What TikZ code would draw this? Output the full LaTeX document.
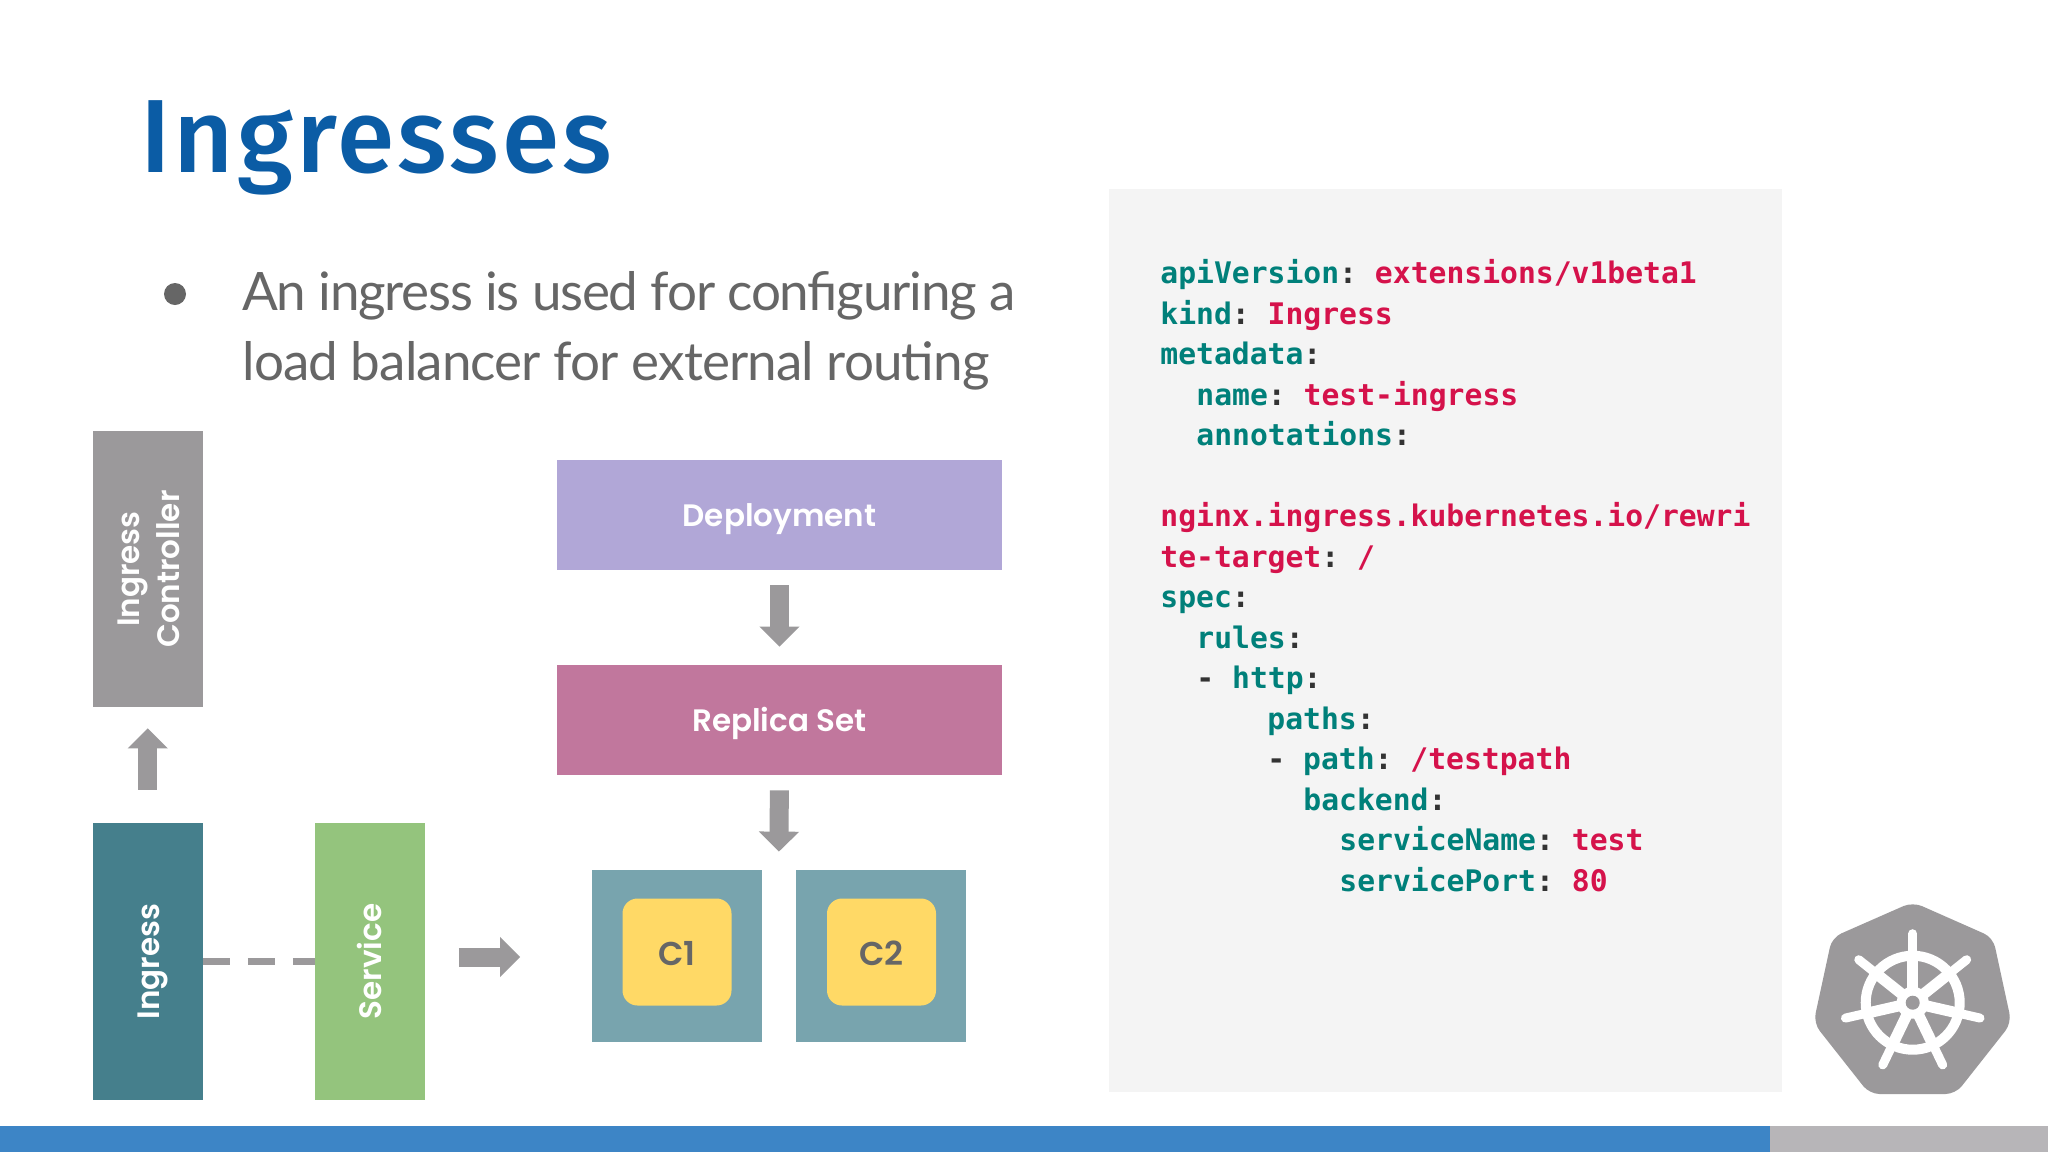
\documentclass[tikz,border=0pt]{standalone}
\usepackage{fontspec}
\usetikzlibrary{arrows.meta,calc}
\setmainfont{Lato}[LetterSpace=-1.7]
\newfontfamily\titlefont{Fira Sans Medium}[LetterSpace=3]
\newfontfamily\boxfont{Poppins SemiBold}
\newfontfamily\codefont{DejaVu Sans Mono}[BoldFont={DejaVu Sans Mono Bold}]
\definecolor{titleblue}{HTML}{0B5CA5}
\definecolor{bodygray}{HTML}{666666}
\definecolor{ingresscol}{HTML}{457F8C}
\definecolor{servicecol}{HTML}{94C47D}
\definecolor{ctrlcol}{HTML}{9B999B}
\definecolor{deploycol}{HTML}{B1A7D7}
\definecolor{replicacol}{HTML}{C1779D}
\definecolor{podcol}{HTML}{78A4AE}
\definecolor{yellowcol}{HTML}{FFD966}
\definecolor{panelcol}{HTML}{F4F4F4}
\definecolor{keycol}{HTML}{00807A}
\definecolor{valcol}{HTML}{D5124B}
\definecolor{punctcol}{HTML}{333333}
\definecolor{barblue}{HTML}{3D85C6}
\definecolor{bargray}{HTML}{B7B5B8}
\definecolor{arrowgray}{HTML}{9B999B}
\newcommand{\kk}[1]{\textcolor{keycol}{#1}}
\newcommand{\vv}[1]{\textcolor{valcol}{#1}}
\newcommand{\pp}[1]{\textcolor{punctcol}{#1}}
\tikzset{
  x=0.5pt,y=-0.5pt,
  tallbox/.style={inner sep=0pt,minimum width=54.75pt,minimum height=138.5pt},
  boxlabel/.style={inner sep=0pt,text=white,text height=11.5pt,text depth=0pt,font=\boxfont\fontsize{15.5}{20}\selectfont},
  widebox/.style={boxlabel,minimum width=222.25pt,minimum height=55pt},
  podbox/.style={inner sep=0pt,minimum width=85pt,minimum height=86pt,fill=podcol},
  ctrbox/.style={inner sep=0pt,minimum width=54.5pt,minimum height=53.5pt,fill=yellowcol,rounded corners=7.5pt,text=bodygray,text height=13pt,text depth=0pt,font=\boxfont\fontsize{16.5}{20}\selectfont},
  blockarrow/.style={draw=arrowgray,line width=9.5pt,-{Triangle[length=10pt,width=19.5pt]}},
  codeline/.style={anchor=base west,inner sep=0pt,font=\codefont\bfseries\fontsize{14.85}{18}\selectfont\frenchspacing},
  bodyline/.style={anchor=base west,inner sep=0pt,text=bodygray,font=\fontsize{26.5}{32}\selectfont},
  hubwhite/.style={white,line cap=round}
}
\begin{document}
\begin{tikzpicture}
\useasboundingbox (0,0) rectangle (2048,1152);
\fill[white] (0,0) rectangle (2048,1152);
% footer bar
\fill[barblue] (0,1126) rectangle (1770,1152);
\fill[bargray] (1770,1126) rectangle (2048,1152);
% title and bullet
\node[anchor=base west,inner sep=0pt,text=titleblue,font=\titlefont\fontsize{52}{60}\selectfont] (title) at (140,172) {Ingresses};
\fill[bodygray] (175,294) circle (5.5pt);
\node[bodyline] (body1) at (242,310) {\addfontfeature{LetterSpace=-2.4}An ingress is used for configuring a};
\node[bodyline] (body2) at (242,380) {load balancer for external routing};
% code panel
\fill[panelcol] (1109,189) rectangle (1781.5,1092);
\node[codeline] (c0) at (1160,283.5) {\kk{apiVersion}\pp{:} \vv{extensions/v1beta1}};
\node[codeline] (c1) at (1160,324) {\kk{kind}\pp{:} \vv{Ingress}};
\node[codeline] (c2) at (1160,364.5) {\kk{metadata}\pp{:}};
\node[codeline] (c3) at (1196,405) {\kk{name}\pp{:} \vv{test-ingress}};
\node[codeline] (c4) at (1196,445.5) {\kk{annotations}\pp{:}};
\node[codeline] (c6) at (1160,526.5) {\vv{nginx.ingress.kubernetes.io/rewri}};
\node[codeline] (c7) at (1160,567) {\vv{te-target}\pp{:} \vv{/}};
\node[codeline] (c8) at (1160,607.5) {\kk{spec}\pp{:}};
\node[codeline] (c9) at (1196,648) {\kk{rules}\pp{:}};
\node[codeline] (c10) at (1196,688.5) {\pp{-} \kk{http}\pp{:}};
\node[codeline] (c11) at (1267,729) {\kk{paths}\pp{:}};
\node[codeline] (c12) at (1267,769.5) {\pp{-} \kk{path}\pp{:} \vv{/testpath}};
\node[codeline] (c13) at (1303,810) {\kk{backend}\pp{:}};
\node[codeline] (c14) at (1339,850.5) {\kk{serviceName}\pp{:} \vv{test}};
\node[codeline] (c15) at (1339,891) {\kk{servicePort}\pp{:} \vv{80}};
% left column boxes
\node[tallbox,fill=ctrlcol,minimum height=138pt] (ctrl) at (147.75,569) {};
\node[rotate=90,align=center,inner sep=0pt,text=white,font=\boxfont\fontsize{15.5}{20}\selectfont] (ctrllabel) at ($(ctrl.center)+(1.5,0)$) {Ingress\\Controller};
\node[tallbox,fill=ingresscol] (ingress) at (147.75,961.5) {};
\node[boxlabel,rotate=90] (ingresslabel) at (ingress.center) {Ingress};
\node[tallbox,fill=servicecol] (service) at (369.75,961.5) {};
\node[boxlabel,rotate=90] (servicelabel) at (service.center) {Service};
\node[widebox,fill=deploycol] (deploy) at (779.5,515) {Deployment};
\node[widebox,fill=replicacol] (replica) at (779.5,720) {Replica Set};
\node[podbox] (pod1) at (676.5,956) {};
\node[podbox] (pod2) at (881,956) {};
\node[ctrbox] (ctr1) at (677,952) {C1};
\node[ctrbox] (ctr2) at (881.5,952) {C2};
\coordinate (podstop) at ($(pod1.north)!.5!(pod2.north)$);
% connectors
\draw[blockarrow,shorten <=16.5pt,shorten >=10.5pt] (ingress.north) -- (ctrl.south);
\draw[draw=arrowgray,line width=3.5pt,dash pattern=on 13.5pt off 9pt] (ingress.east) -- (service.west);
\draw[blockarrow,shorten <=17pt,shorten >=35.5pt] ([yshift=-0.5pt]service.east |- pod1.west) -- ([yshift=-0.5pt]pod1.west);
\draw[blockarrow,shorten <=7.5pt,shorten >=9pt] (deploy.south) -- (replica.north);
\draw[blockarrow,shorten <=7.5pt,shorten >=9pt] (replica.south) -- (podstop);
% logo
\coordinate (logoc) at (1912.7,1002.7);
\fill[arrowgray,rounded corners=5pt] (1912.7,902) -- (1993,937.5) -- (2011.5,1023) -- (1955.5,1094) -- (1869.5,1094) -- (1813.5,1023) -- (1832,937.5) -- cycle;
\draw[white,line width=5pt] (logoc) circle (23.5pt);
\fill[white] (logoc) circle (8pt);
\foreach \a in {90,141.43,192.86,244.29,295.71,347.14,38.57}{
  \draw[white,line width=5.5pt] (logoc) -- ($(logoc)+(\a:24pt)$);
  \draw[hubwhite,line width=4.5pt] ($(logoc)+(\a:24pt)$) -- ($(logoc)+(\a:34.5pt)$);
}
\fill[arrowgray] (logoc) circle (3.5pt);
\end{tikzpicture}
\end{document}
